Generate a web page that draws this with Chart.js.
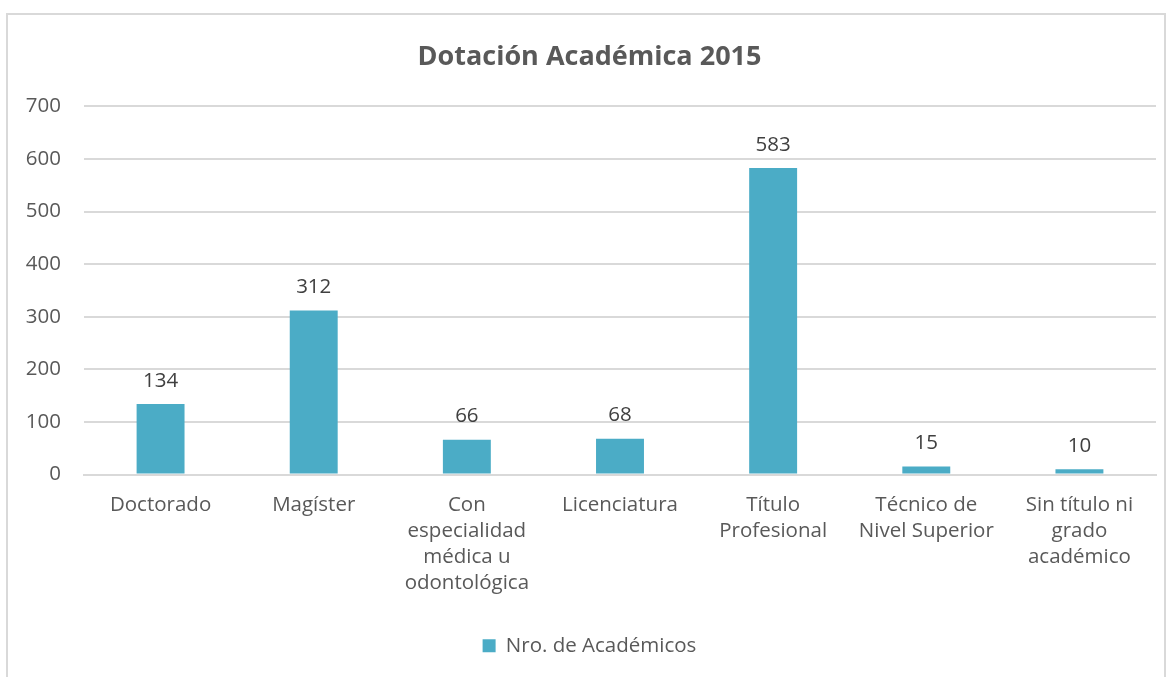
<!DOCTYPE html>
<html><head><meta charset="utf-8">
<script src="https://cdn.jsdelivr.net/npm/chart.js@4/dist/chart.umd.min.js"></script>
<style>
html,body{margin:0;padding:0;background:#fff;overflow:hidden;}
#box{position:absolute;left:6px;top:13px;width:1160px;height:680px;border:2px solid #d9d9d9;box-sizing:border-box;}
#c{position:absolute;left:0;top:0;}
</style></head><body>
<div id="box"><canvas id="c" width="1156" height="676"></canvas></div>
<script>
const categories = [["Doctorado"],["Magíster"],["Con","especialidad","médica u","odontológica"],["Licenciatura"],["Título","Profesional"],["Técnico de","Nivel Superior"],["Sin título ni","grado","académico"]];
const values = [134,312,66,68,583,15,10];
const yTicks = [0,100,200,300,400,500,600,700];
const seriesName = "Nro. de Académicos";
const titleText = "Dotación Académica 2015";

const FONT = "'Open Sans', sans-serif";
const labelPlugin = {
  id:'barLabels',
  afterDatasetsDraw(chart){
    const ctx = chart.ctx;
    const meta = chart.getDatasetMeta(0);
    ctx.save();
    ctx.font = "20.5px " + FONT;
    ctx.fillStyle = "#404040";
    ctx.textAlign = "center";
    ctx.textBaseline = "bottom";
    meta.data.forEach((bar,i)=>{
      ctx.fillText(String(values[i]), bar.x, bar.y - 13);
    });
    ctx.restore();
  }
};

new Chart(document.getElementById('c'), {
  type:'bar',
  data:{labels:categories, datasets:[{label:seriesName, data:values, backgroundColor:'#4BACC6', borderWidth:0, barPercentage:0.313, categoryPercentage:1.0}]},
  options:{
    responsive:false, animation:false,
    layout:{padding:{left:15,right:8,top:0,bottom:25}},
    plugins:{
      title:{display:true, text:titleText, color:'#595959', font:{family:FONT, size:27, weight:'bold', lineHeight:1.2}, padding:{top:26,bottom:33}},
      legend:{position:'bottom', labels:{color:'#595959', font:{family:FONT,size:20.5}, boxWidth:13, boxHeight:13, padding:10}},
      tooltip:{enabled:false}
    },
    scales:{
      x:{
        grid:{display:false, drawTicks:false},
        border:{display:true, color:'#d9d9d9', width:2},
        ticks:{color:'#595959', font:{family:FONT,size:20.5, lineHeight:1.27}, padding:18, maxRotation:0, autoSkip:false},
        afterFit(a){ a.height = 151; }
      },
      y:{
        min:0, max:700,
        afterBuildTicks(a){ a.ticks = yTicks.map(v=>({value:v})); },
        grid:{color:'#d9d9d9', lineWidth:2, drawTicks:false},
        border:{display:false},
        ticks:{color:'#595959', font:{family:FONT,size:20.5}, padding:23},
        afterFit(a){ a.width = 61; }
      }
    }
  },
  plugins:[labelPlugin]
});
</script>
</body></html>
